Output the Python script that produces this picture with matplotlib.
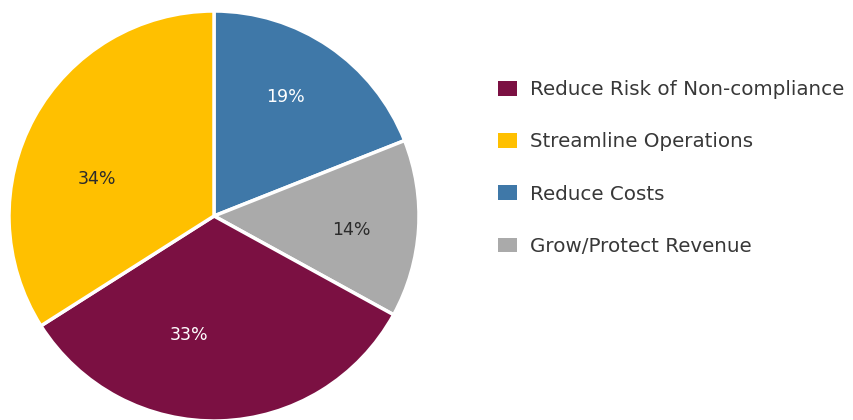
import matplotlib.pyplot as plt
from matplotlib.patches import Patch

# slices clockwise from 12 o'clock
slice_labels = ["Reduce Costs", "Grow/Protect Revenue",
                "Reduce Risk of Non-compliance", "Streamline Operations"]
slice_values = [19, 14, 33, 34]
slice_colors = ["#3F78A8", "#AAAAAA", "#7B1042", "#FFC000"]
text_colors = ["white", "#2b2b2b", "white", "#2b2b2b"]

# where the percentage labels sit, in units of the pie radius
label_xy = [(0.35, 0.58), (0.67, -0.07), (-0.12, -0.58), (-0.57, 0.18)]

# legend order as in the reference
legend_order = ["Reduce Risk of Non-compliance", "Streamline Operations",
                "Reduce Costs", "Grow/Protect Revenue"]

plt.rcParams['font.family'] = ['DejaVu Sans']

W, H = 854, 420
fig = plt.figure(figsize=(W / 100, H / 100), dpi=100)

# pie centre (214, 216 from top), radius 205 px
cx, cy, r = 214, 420 - 216, 205
ax = fig.add_axes([(cx - r) / W, (cy - r) / H, 2 * r / W, 2 * r / H])

wedges, texts = ax.pie(
    slice_values,
    colors=slice_colors,
    startangle=90,
    counterclock=False,
    labels=[f"{v}%" for v in slice_values],
    wedgeprops=dict(edgecolor="white", linewidth=2.5),
    textprops=dict(fontsize=12.5),
)
for t, c, xy in zip(texts, text_colors, label_xy):
    t.set_color(c)
    t.set_position(xy)
    t.set_horizontalalignment("center")
    t.set_verticalalignment("center")

ax.set_xlim(-1, 1)
ax.set_ylim(-1, 1)
ax.set_aspect("equal")
ax.axis("off")

color_of = dict(zip(slice_labels, slice_colors))
handles = [Patch(facecolor=color_of[n], edgecolor="none") for n in legend_order]
fig.legend(
    handles, legend_order,
    loc="center left",
    bbox_to_anchor=(480 / W, (420 - 168) / H),
    frameon=False,
    fontsize=14.3,
    labelcolor="#383838",
    handlelength=0.95,
    handleheight=0.75,
    handletextpad=0.65,
    labelspacing=1.67,
)

fig.savefig("out.png", dpi=100)
